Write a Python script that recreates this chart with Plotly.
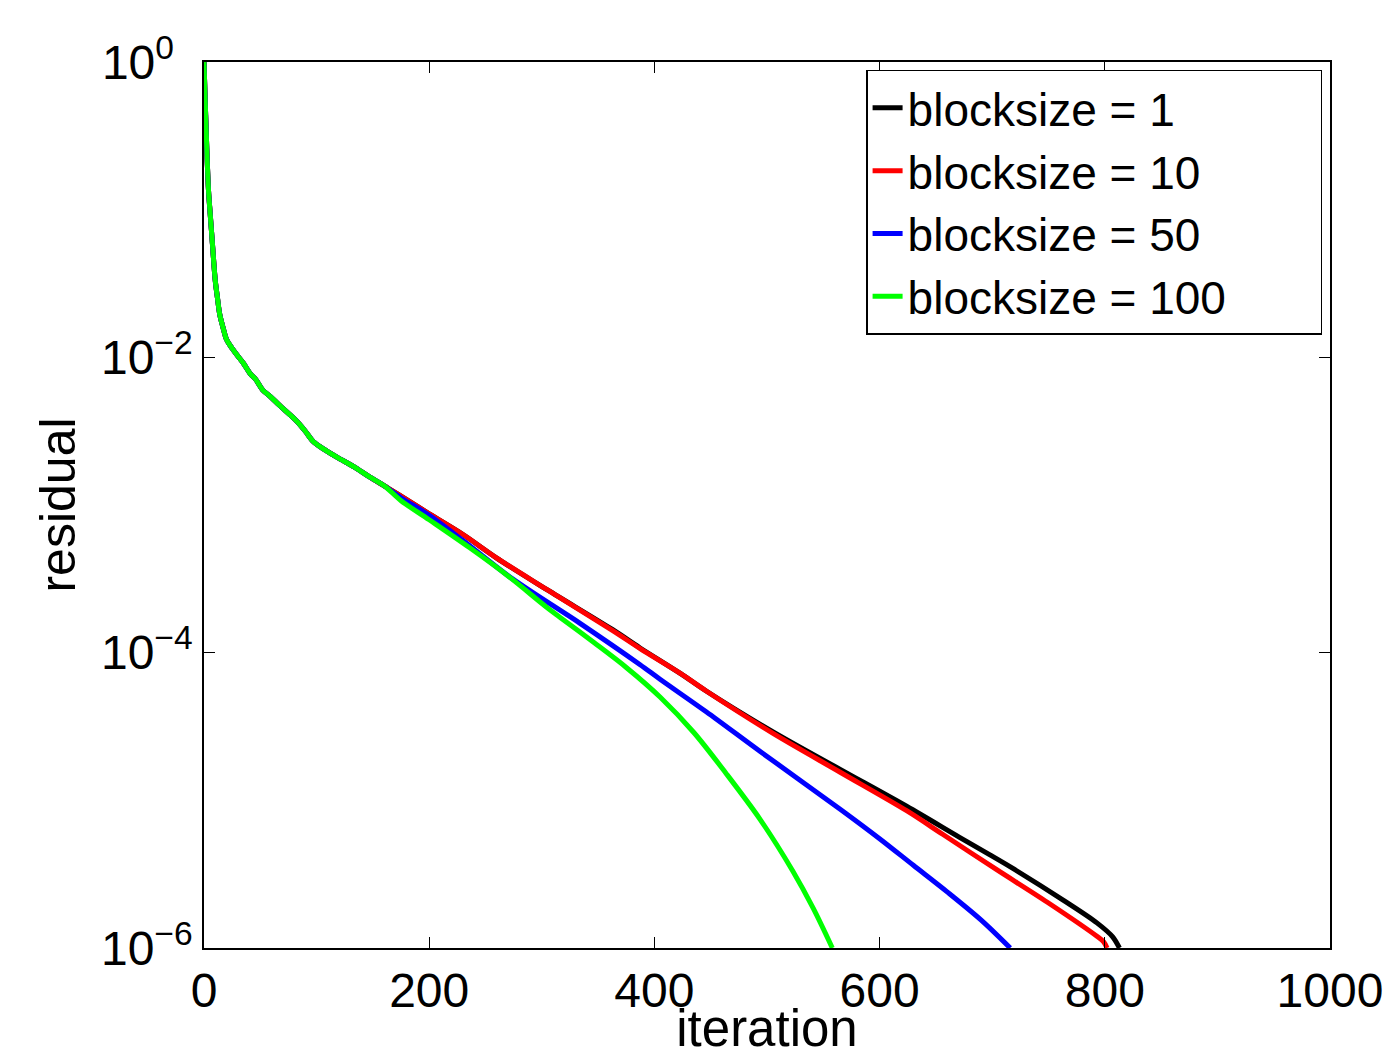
import plotly.graph_objects as go

# ---- data ----
x_common = [0, 1, 2, 3, 4, 5, 7, 10, 12, 14, 17, 20, 25, 30, 35, 41, 46, 52, 58,
            65, 72, 82, 90, 97, 106, 118, 133, 147, 160]
r_common = [1.0, 0.562, 0.331, 0.200, 0.135, 0.105, 0.0661, 0.0331, 0.0251, 0.0195,
            0.0158, 0.0132, 0.0115, 0.0102, 0.00912, 0.00776, 0.00708, 0.00603,
            0.00550, 0.00490, 0.00437, 0.00372, 0.00316, 0.00269, 0.00240,
            0.00211, 0.00182, 0.00155, 0.00135]

x_b1 = [175, 200, 230, 260, 305, 363, 387, 423, 446, 505, 565, 624, 671, 698, 718,
        763, 793, 807, 813]
r_b1 = [0.00115, 0.000871, 0.000631, 0.000437, 0.000266, 0.000143, 0.000108,
        7.24e-5, 5.50e-5, 2.92e-5, 1.62e-5, 9.12e-6, 5.62e-6, 4.27e-6, 3.47e-6,
        2.11e-6, 1.48e-6, 1.19e-6, 1.0e-6]

x_b10 = [175, 200, 230, 260, 305, 363, 387, 423, 446, 505, 565, 624, 656, 704, 749,
         793, 799, 802]
r_b10 = [0.00115, 0.000871, 0.000631, 0.000437, 0.000266, 0.000141, 0.000107,
         7.24e-5, 5.50e-5, 2.85e-5, 1.55e-5, 8.51e-6, 5.89e-6, 3.39e-6, 2.04e-6,
         1.20e-6, 1.10e-6, 1.0e-6]

x_b50 = [175, 200, 230, 274, 334, 387, 405, 446, 494, 565, 600, 630, 660, 690, 716]
r_b50 = [0.00112, 0.000851, 0.000575, 0.000316, 0.000158, 8.32e-5, 6.61e-5,
         3.98e-5, 2.14e-5, 8.71e-6, 5.50e-6, 3.63e-6, 2.40e-6, 1.55e-6, 1.0e-6]

x_b100 = [175, 200, 236, 270, 304, 316, 346, 375, 405, 435, 464, 494, 523, 541, 558]
r_b100 = [0.00107, 0.000794, 0.000513, 0.000331, 0.000204, 0.000174, 0.0001175,
          7.94e-5, 5.01e-5, 2.88e-5, 1.51e-5, 7.41e-6, 3.31e-6, 1.86e-6, 1.0e-6]

series_names = ["blocksize = 1", "blocksize = 10", "blocksize = 50", "blocksize = 100"]
series_x = [x_b1, x_b10, x_b50, x_b100]
series_r = [r_b1, r_b10, r_b50, r_b100]
colors = ["#000000", "#ff0000", "#0000ff", "#00ff00"]

x_ticks = [0, 200, 400, 600, 800, 1000]
y_ticks = [1e-6, 1e-4, 1e-2, 1]
y_ticktext = ["10<sup>−6</sup>", "10<sup>−4</sup>", "10<sup>−2</sup>",
              "10<sup>0\u00a0\u00a0</sup>"]

FONT = "Liberation Sans, Arial, Helvetica, sans-serif"
PAD = "\u00a0" * 7

fig = go.Figure()
for name, xs, rs, c in zip(series_names, series_x, series_r, colors):
    fig.add_trace(go.Scatter(
        x=x_common + xs, y=r_common + rs, mode="lines", name=name + PAD,
        line=dict(color=c, width=5, shape="spline", smoothing=0.9),
    ))

fig.update_layout(
    width=1385, height=1049,
    margin=dict(l=196, r=63, t=54, b=109),
    paper_bgcolor="white", plot_bgcolor="white",
    font=dict(family=FONT, size=48, color="black"),
    showlegend=True,
    legend=dict(
        x=0.588, y=0.991, xanchor="left", yanchor="top",
        bgcolor="white", bordercolor="black", borderwidth=1.5,
        font=dict(family=FONT, size=46, color="black"),
        tracegroupgap=0, itemwidth=30,
    ),
)

fig.update_xaxes(
    range=[0, 1000], tickvals=x_ticks, ticktext=[str(v) for v in x_ticks],
    showgrid=False, zeroline=False, automargin=False,
    showline=True, linecolor="black", linewidth=1.5, mirror="ticks",
    ticks="inside", ticklen=11, tickwidth=1.2, tickcolor="black",
    tickfont=dict(family=FONT, size=48, color="black"),
    ticklabelstandoff=0,
    title=dict(text="iteration", font=dict(family=FONT, size=51, color="black"), standoff=0),
)
fig.update_yaxes(
    type="log", range=[-6, 0], tickvals=y_ticks, ticktext=y_ticktext,
    showgrid=False, zeroline=False, automargin=False,
    showline=True, linecolor="black", linewidth=1.5, mirror="ticks",
    ticks="inside", ticklen=11, tickwidth=1.2, tickcolor="black",
    tickfont=dict(family=FONT, size=48, color="black"),
    ticklabelstandoff=0,
    title=dict(text="residual", font=dict(family=FONT, size=50, color="black"), standoff=9),
)

fig.write_html("out.html")
